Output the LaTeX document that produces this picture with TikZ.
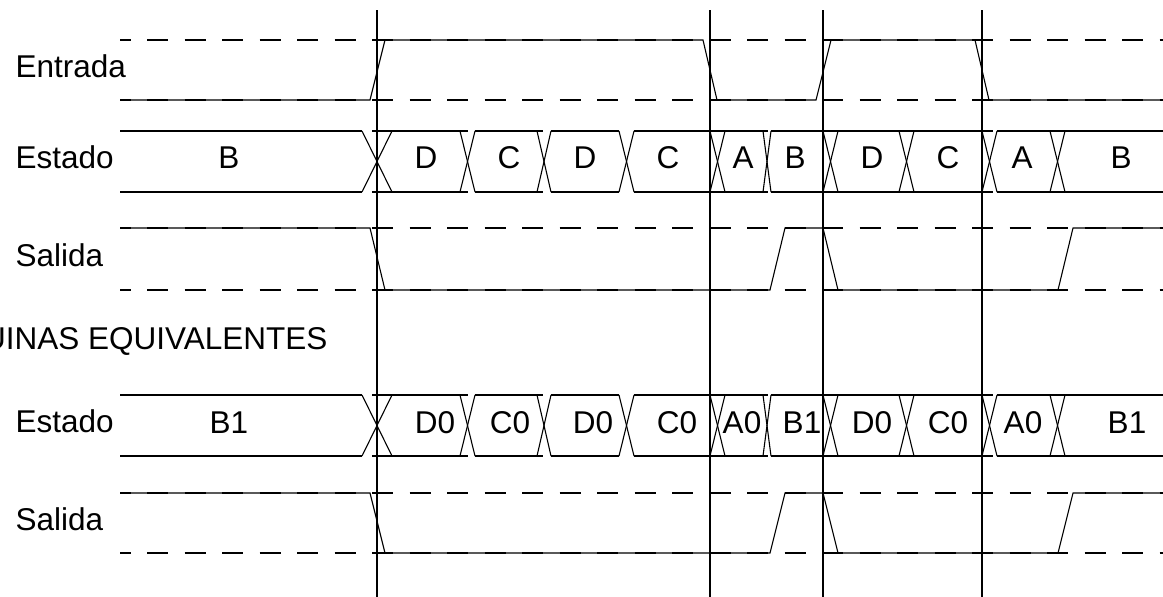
\documentclass[tikz,border=0pt]{standalone}
\usepackage{fontspec}
\setmainfont{Liberation Sans}
\usepackage{tikz}

\begin{document}
\begin{tikzpicture}[x=1pt, y=-1pt, line width=1.1pt,
    guia/.style={dash pattern=on 21pt off 16.5pt, dash phase=10.5pt},
    etiqueta/.style={anchor=base west, inner sep=0pt, font=\fontsize{31.5}{36}\selectfont},
    valor/.style={anchor=base, inner sep=0pt, font=\fontsize{31.5}{36}\selectfont}]

    \useasboundingbox (0,0) rectangle (1163,597);
    \clip (0,0) rectangle (1163,597);

    % =================================================================
    % 1. LINEAS DE REFERENCIA PUNTEADAS (niveles alto y bajo)
    % =================================================================
    \foreach \y in {40,100,131,192,228,290,395,456,493,553}
        \draw[guia] (120,\y) -- (1163,\y);

    % =================================================================
    % 2. ENTRADA
    % =================================================================
    \node[etiqueta] (entrada) at (15,77) {Entrada};
    \draw (120,100) -- (370,100) -- (385,40) -- (703,40) -- (717,100)
        -- (816,100) -- (831,40) -- (975,40) -- (989,100) -- (1163,100);

    % =================================================================
    % 3. ESTADO (bus con transiciones en X), arriba y abajo
    % =================================================================
    \node[etiqueta] (estado1) at (15,168) {Estado};
    \node[etiqueta] (estado2) at (15,432) {Estado};

    \foreach \ya/\yb in {131/192, 395/456} {
        % tramos horizontales
        \foreach \a/\b in {120/362, 392/460, 475/537, 551/619, 634/710,
                           725/763, 771/823, 838/899, 914/982, 997/1050, 1065/1163} {
            \draw (\a,\ya) -- (\b,\ya);
            \draw (\a,\yb) -- (\b,\yb);
        }
        % cruces
        \foreach \a/\b in {362/392, 460/475, 537/551, 619/634, 710/725,
                           763/771, 823/838, 899/914, 982/997, 1050/1065} {
            \draw (\a,\ya) -- (\b,\yb);
            \draw (\a,\yb) -- (\b,\ya);
        }
    }

    % valores del estado
    \foreach \x/\t [count=\i] in {229/B, 426/D, 509/C, 585/D, 668/C, 743/A,
                                  795/B, 872/D, 948/C, 1022/A, 1121/B}
        \node[valor] (va-\i) at (\x,168) {\t};

    \foreach \x/\t [count=\i] in {229/B1, 435/D0, 510/C0, 593/D0, 677/C0, 742/A0,
                                  802/B1, 872/D0, 948/C0, 1023/A0, 1127/B1}
        \node[valor] (vb-\i) at (\x,433) {\t};

    % =================================================================
    % 4. SALIDA
    % =================================================================
    \node[etiqueta] (salida1) at (15,266) {Salida};
    \draw (120,228) -- (370,228) -- (385,290) -- (770,290) -- (785,228)
        -- (823,228) -- (838,290) -- (1058,290) -- (1073,228) -- (1163,228);

    \node[etiqueta] (salida2) at (15,530) {Salida};
    \draw (120,493) -- (370,493) -- (385,553) -- (770,553) -- (785,493)
        -- (823,493) -- (838,553) -- (1058,553) -- (1073,493) -- (1163,493);

    % titulo de la segunda parte
    \node[anchor=base east, inner sep=0pt, font=\fontsize{31.5}{36}\selectfont]
        (titulo) at (328,349) {MAQUINAS EQUIVALENTES};

    % =================================================================
    % 5. LINEAS VERTICALES DE LOS FLANCOS
    % =================================================================
    \foreach \x in {377,710,823,982}
        \draw (\x,10) -- (\x,597);

\end{tikzpicture}
\end{document}
